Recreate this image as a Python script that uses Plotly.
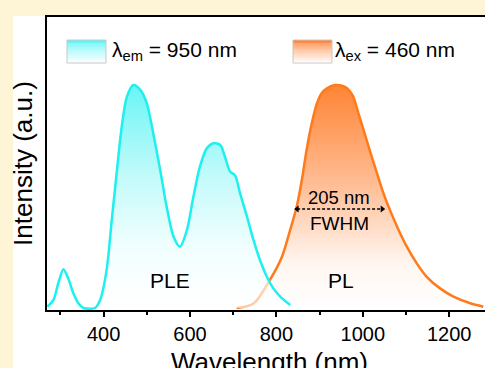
import plotly.graph_objects as go

# ---------------- data ----------------
ple_wl = [270, 284, 295, 307, 318, 330, 342, 353, 380, 392, 407, 419, 431, 442, 454, 469,
          485, 500, 515, 531, 546, 562, 577, 593, 608, 623, 639, 654, 670, 681, 693, 704,
          716, 732, 747, 762, 778, 793, 809, 832]
ple_int = [0.006, 0.036, 0.11, 0.174, 0.133, 0.066, 0.02, 0.0, 0.0, 0.036, 0.17, 0.395, 0.619,
           0.813, 0.948, 1.0, 0.978, 0.918, 0.783, 0.619, 0.454, 0.32, 0.275, 0.35, 0.5, 0.634,
           0.716, 0.739, 0.731, 0.678, 0.611, 0.596, 0.514, 0.41, 0.305, 0.215, 0.14, 0.088,
           0.051, 0.013]

pl_wl = [708, 747, 785, 813, 832, 847, 859, 870, 882, 894, 905, 917, 936, 959, 971, 978, 990,
         1002, 1017, 1033, 1048, 1063, 1083, 1102, 1125, 1148, 1179, 1210, 1249, 1279]
pl_int = [0.0, 0.02, 0.126, 0.23, 0.35, 0.454, 0.574, 0.709, 0.828, 0.918, 0.963, 0.985, 1.0,
          0.992, 0.97, 0.948, 0.873, 0.798, 0.701, 0.604, 0.514, 0.439, 0.35, 0.275, 0.2, 0.14,
          0.088, 0.051, 0.021, 0.006]

x_tick_vals = [400, 600, 800, 1000, 1200]
x_tick_text = ["400", "600", "800", "1000", "1200"]

fwhm_x = [848, 1045]
fwhm_y = 0.444

legend_labels = ["λ<sub>em</sub> = 950 nm", "λ<sub>ex</sub> = 460 nm"]
x_title = "Wavelength (nm)"
y_title = "Intensity (a.u.)"

# ---------------- style ----------------
FONT = "Liberation Sans, Arial, sans-serif"
CREAM = "#FDF5D6"
CYAN = "#1EEFEF"
ORANGE = "#FF7A1A"

fig = go.Figure()

# PL (drawn first so PLE fill softens its left tail)
fig.add_trace(go.Scatter(
    x=pl_wl, y=pl_int, mode="lines", line=dict(color=ORANGE, width=2.5, shape="spline", smoothing=0.8),
    fill="tozeroy",
    fillgradient=dict(type="vertical",
                      colorscale=[[0, "rgb(255,255,255)"], [0.2, "rgb(255,246,240)"],
                                  [0.55, "rgb(255,190,150)"], [1, "rgb(255,132,52)"]]),
    showlegend=False, hoverinfo="skip"))

# PLE
fig.add_trace(go.Scatter(
    x=ple_wl, y=ple_int, mode="lines", line=dict(color=CYAN, width=2.5, shape="spline", smoothing=0.8),
    fill="tozeroy",
    fillgradient=dict(type="vertical",
                      colorscale=[[0, "rgba(255,255,255,0.6)"], [0.25, "rgba(240,254,254,0.8)"],
                                  [0.6, "rgba(190,250,250,0.95)"], [1, "rgba(105,245,245,1)"]]),
    showlegend=False, hoverinfo="skip"))

# FWHM dashed arrow
fig.add_trace(go.Scatter(
    x=fwhm_x, y=[fwhm_y, fwhm_y], mode="lines+markers",
    line=dict(color="black", width=1.3, dash="3px,2px"),
    marker=dict(symbol=["triangle-left", "triangle-right"], size=6, color="black"),
    showlegend=False, hoverinfo="skip"))

shapes = []
# white panel
shapes.append(dict(type="rect", xref="paper", yref="paper", x0=-0.0776, x1=1.05, y0=-0.3, y1=1.0034,
                   fillcolor="white", line=dict(width=0), layer="below"))

# legend swatches (vertical gradient built from thin strips)
def swatch(x0, x1, top_rgb):
    y_top, y_bot = 0.9215, 0.843
    n = 24
    for i in range(n):
        f = i / (n - 1)  # 0 bottom -> 1 top
        c = tuple(int(round(255 + (t - 255) * f)) for t in top_rgb)
        ya = y_bot + (y_top - y_bot) * i / n
        yb = y_bot + (y_top - y_bot) * (i + 1) / n
        shapes.append(dict(type="rect", xref="paper", yref="paper", x0=x0, x1=x1, y0=ya, y1=yb,
                           fillcolor="rgb(%d,%d,%d)" % c, line=dict(width=0)))
    shapes.append(dict(type="rect", xref="paper", yref="paper", x0=x0, x1=x1, y0=y_bot, y1=y_top,
                       fillcolor="rgba(0,0,0,0)", line=dict(color="#C8C8C8", width=1)))

swatch(0.0457, 0.1347, (90, 243, 243))
swatch(0.5616, 0.6507, (255, 128, 50))

annotations = [
    dict(text=legend_labels[0], x=0.1438, y=0.884, xref="paper", yref="paper", xanchor="left",
         yanchor="middle", showarrow=False, font=dict(size=21, color="black", family=FONT)),
    dict(text=legend_labels[1], x=0.653, y=0.884, xref="paper", yref="paper", xanchor="left",
         yanchor="middle", showarrow=False, font=dict(size=21, color="black", family=FONT)),
    dict(text="PLE", x=554, y=0.122, xref="x", yref="y", showarrow=False,
         font=dict(size=21, color="black", family=FONT)),
    dict(text="PL", x=950, y=0.122, xref="x", yref="y", showarrow=False,
         font=dict(size=21, color="black", family=FONT)),
    dict(text="205 nm", x=946, y=0.497, xref="x", yref="y", showarrow=False,
         font=dict(size=18.5, color="black", family=FONT)),
    dict(text="FWHM", x=946, y=0.377, xref="x", yref="y", showarrow=False,
         font=dict(size=19, color="black", family=FONT)),
    dict(text=y_title, x=-0.0548, y=0.502, xref="paper", yref="paper", textangle=-90,
         xanchor="center", yanchor="middle", showarrow=False,
         font=dict(size=26, color="black", family=FONT)),
    dict(text=x_title, x=0.509, y=-0.12, xref="paper", yref="paper", xanchor="center",
         yanchor="top", showarrow=False, font=dict(size=26, color="black", family=FONT)),
]

fig.update_layout(
    width=485, height=368,
    margin=dict(l=47, r=0, t=17, b=58),
    paper_bgcolor=CREAM, plot_bgcolor="white",
    shapes=shapes, annotations=annotations,
    font=dict(family=FONT, color="black"),
)
fig.update_xaxes(
    range=[269, 1283], showgrid=False, zeroline=False,
    showline=True, linecolor="black", linewidth=2, mirror=True,
    tickvals=x_tick_vals, ticktext=x_tick_text, ticks="outside", ticklen=5, tickwidth=1.5,
    tickcolor="black", tickfont=dict(size=20, family=FONT, color="black"),
    minor=dict(tickvals=[300, 500, 700, 900, 1100], ticks="outside", ticklen=3, tickwidth=1.5,
               tickcolor="black", showgrid=False),
)
fig.update_yaxes(
    range=[-0.009, 1.305], showgrid=False, zeroline=False, showticklabels=False, ticks="",
    showline=True, linecolor="black", linewidth=2, mirror=False,
)

fig.write_html("out.html")
